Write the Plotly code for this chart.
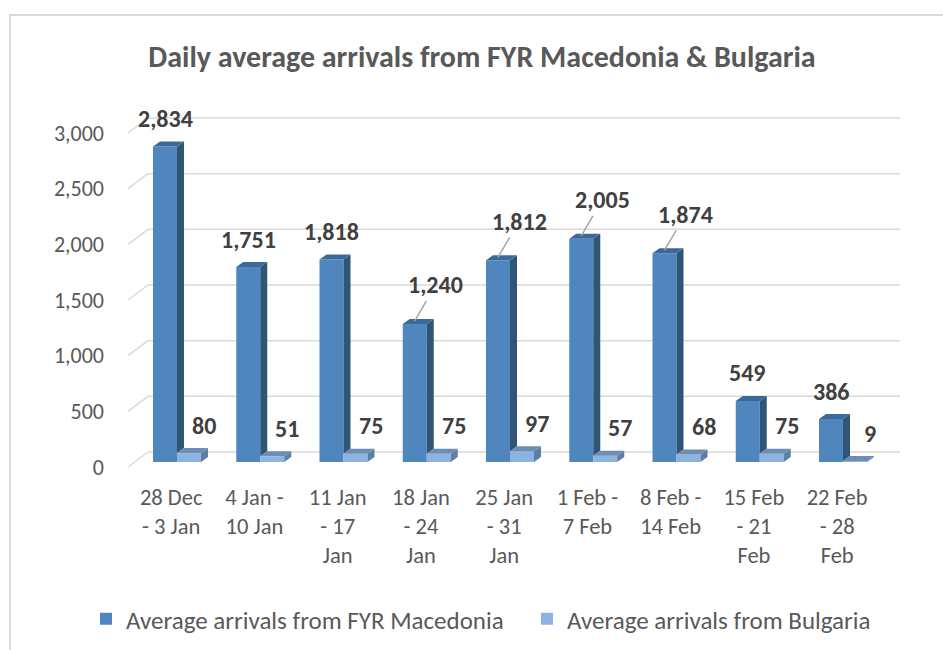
import plotly.graph_objects as go

# ---------------- data ----------------
categories = ["28 Dec<br>- 3 Jan", "4 Jan -<br>10 Jan", "11 Jan<br>- 17<br>Jan",
              "18 Jan<br>- 24<br>Jan", "25 Jan<br>- 31<br>Jan", "1 Feb -<br>7 Feb",
              "8 Feb -<br>14 Feb", "15 Feb<br>- 21<br>Feb", "22 Feb<br>- 28<br>Feb"]
macedonia = [2834, 1751, 1818, 1240, 1812, 2005, 1874, 549, 386]
bulgaria = [80, 51, 75, 75, 97, 57, 68, 75, 9]
leader = [False, False, False, True, True, True, True, False, False]
y_tickvals = [0, 500, 1000, 1500, 2000, 2500, 3000]
y_ticktext = ["0", "500", "1,000", "1,500", "2,000", "2,500", "3,000"]
series_names = ["Average arrivals from FYR Macedonia", "Average arrivals from Bulgaria"]

# ---------------- geometry (pixels) ----------------
W, H = 943, 650
L, R, T, B = 148, 43, 100, 180
plot_w = W - L - R
plot_h = H - T - B
bottom_px = H - B
zero_px = 462          # bar base (front of bars)
label_zero_px = 467    # tick-label plane
k = 334 / 3000         # px per unit
spacing = 83.25
first_center = 177

y_lo = -(bottom_px - zero_px) / k
y_hi = (zero_px - T) / k
lab_shift = (label_zero_px - zero_px) / k
x_lo = -(first_center - L) / spacing
x_hi = x_lo + plot_w / spacing
bw = 24 / spacing
dx = 7 / spacing
dy = 5 / k
diag_w = 20 / plot_w

FONT = "Carlito, Calibri, Lato, sans-serif"
GRAY = "#595959"
DARK = "#404040"

C_MAC = ["#4F86BE", "#2F5577", "#3B6A9A"]   # front, side, top
C_BUL = ["#8DB3E2", "#5E7EA6", "#6E8DB5"]

xs = list(range(len(categories)))

fig = go.Figure()

# front faces (bars)
fig.add_trace(go.Bar(x=xs, y=macedonia, width=bw, offset=-bw, name=series_names[0],
                     marker=dict(color=C_MAC[0], line=dict(width=0)), hoverinfo="skip"))
fig.add_trace(go.Bar(x=xs, y=bulgaria, width=bw, offset=0, name=series_names[1],
                     marker=dict(color=C_BUL[0], line=dict(width=0)), hoverinfo="skip"))


def faces(x_left, vals, base_vals):
    sx, sy, tx, ty = [], [], [], []
    for i, v in enumerate(vals):
        xl = x_left[i]
        xr = xl + bw
        b0 = base_vals[i]
        sx += [xr, xr + dx, xr + dx, xr, xr, None]
        sy += [b0, b0 + dy, v + dy, v, b0, None]
        tx += [xl, xr, xr + dx, xl + dx, xl, None]
        ty += [v, v, v + dy, v + dy, v, None]
    return sx, sy, tx, ty


# Macedonia side (its lower part is hidden by the Bulgaria bar in front of it)
sx, sy, tx, ty = faces([i - bw for i in xs], macedonia, bulgaria)
fig.add_trace(go.Scatter(x=sx, y=sy, fill="toself", fillcolor=C_MAC[1], mode="lines",
                         line=dict(width=0, color=C_MAC[1]), showlegend=False, hoverinfo="skip"))
fig.add_trace(go.Scatter(x=tx, y=ty, fill="toself", fillcolor=C_MAC[2], mode="lines",
                         line=dict(width=0, color=C_MAC[2]), showlegend=False, hoverinfo="skip"))
sx, sy, tx, ty = faces([i for i in xs], bulgaria, [0] * len(bulgaria))
fig.add_trace(go.Scatter(x=sx, y=sy, fill="toself", fillcolor=C_BUL[1], mode="lines",
                         line=dict(width=0, color=C_BUL[1]), showlegend=False, hoverinfo="skip"))
fig.add_trace(go.Scatter(x=tx, y=ty, fill="toself", fillcolor=C_BUL[2], mode="lines",
                         line=dict(width=0, color=C_BUL[2]), showlegend=False, hoverinfo="skip"))

# invisible trace carrying the tick-label axis
fig.add_trace(go.Scatter(x=[xs[0]], y=[0], yaxis="y2", mode="markers",
                         marker=dict(opacity=0), showlegend=False, hoverinfo="skip"))

shapes = []
# back-wall gridlines and left diagonals
for v in y_tickvals:
    yb = v - lab_shift + 15 / k
    shapes.append(dict(type="line", xref="x domain", yref="y", x0=0, x1=1, y0=yb, y1=yb,
                       line=dict(color="#D9D9D9", width=1.5), layer="below"))
    shapes.append(dict(type="line", xref="x domain", yref="y", x0=-diag_w, x1=0,
                       y0=v - lab_shift, y1=yb, line=dict(color="#D9D9D9", width=1.5), layer="below"))
# chart frame
shapes.append(dict(type="rect", xref="paper", yref="paper",
                   x0=(10 - L) / plot_w, x1=(W + 5 - L) / plot_w,
                   y0=(bottom_px - (H + 5)) / plot_h, y1=(bottom_px - 15) / plot_h,
                   line=dict(color="#D9D9D9", width=2), layer="below"))

LBL = dict(family=FONT, size=24, color=DARK, weight="bold")
annotations = []
for i, v in enumerate(macedonia):
    txt = f"{v:,}"
    if leader[i]:
        annotations.append(dict(x=i - bw / 2, y=v + dy * 0.6, text=txt, showarrow=True,
                                arrowhead=0, arrowwidth=1.5, arrowcolor="#A6A6A6",
                                ax=21, ay=-36, standoff=0, font=LBL))
    else:
        annotations.append(dict(x=i - bw / 2, y=v, text=txt, showarrow=False, yanchor="middle",
                                yshift=28, font=LBL))
for i, v in enumerate(bulgaria):
    annotations.append(dict(x=i + bw / 2, y=v, text=f"{v:,}", showarrow=False, yanchor="middle",
                            xshift=15, yshift=28, font=LBL))

fig.update_layout(
    width=W, height=H,
    margin=dict(l=L, r=R, t=T, b=B, autoexpand=False),
    paper_bgcolor="white", plot_bgcolor="white",
    barmode="overlay",
    title=dict(text="Daily average arrivals from FYR Macedonia &amp; Bulgaria",
               x=(482 - L) / plot_w, xref="paper", xanchor="center",
               y=1 - 56 / H, yanchor="middle",
               font=dict(family=FONT, size=30, color=GRAY, weight="bold")),
    xaxis=dict(range=[x_lo, x_hi], tickmode="array", tickvals=[i - 0.07 for i in xs],
               ticktext=categories, showgrid=False, zeroline=False, showline=False,
               ticks="", tickfont=dict(family=FONT, size=22.5, color=GRAY), ticklabelstandoff=11),
    yaxis=dict(range=[y_lo, y_hi], showgrid=False, zeroline=False, showline=False,
               showticklabels=False, ticks=""),
    yaxis2=dict(range=[y_lo + lab_shift, y_hi + lab_shift], overlaying="y", side="left",
                tickmode="array", tickvals=y_tickvals, ticktext=y_ticktext,
                showgrid=False, zeroline=False, showline=False, ticks="",
                tickfont=dict(family=FONT, size=22, color=GRAY), ticklabelstandoff=43),
    legend=dict(orientation="h", x=(86 - L) / plot_w, xanchor="left",
                y=(bottom_px - 619) / plot_h, yanchor="middle",
                font=dict(family=FONT, size=25, color=GRAY),
                entrywidth=396, entrywidthmode="pixels", itemwidth=30,
                bgcolor="rgba(0,0,0,0)"),
    shapes=shapes,
    annotations=annotations,
    showlegend=True,
)

fig.write_html("out.html", config={"displayModeBar": False},
               post_script="document.body.style.margin='0';")
